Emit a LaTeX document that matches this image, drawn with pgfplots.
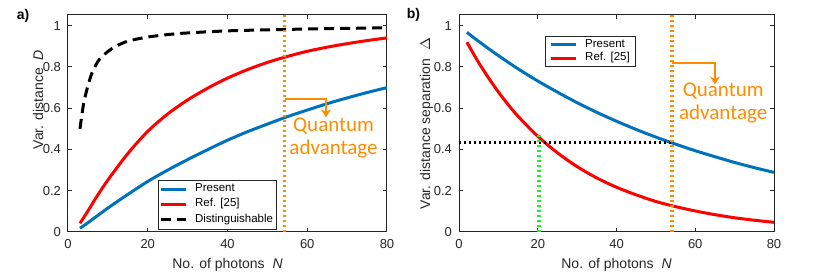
\documentclass[border=0pt]{standalone}
\usepackage{fontspec}
\setmainfont{Liberation Sans}
\newfontfamily\calibri{Carlito}
\usepackage{pgfplots}
\pgfplotsset{compat=1.18}
\usetikzlibrary{arrows.meta}
\definecolor{mblue}{RGB}{0,114,189}
\definecolor{mred}{RGB}{255,0,0}
\definecolor{morange}{RGB}{255,140,0}
\definecolor{mgreen}{RGB}{40,235,40}
\definecolor{axgray}{RGB}{38,38,38}
\pgfplotsset{
  myaxis/.style={
    scale only axis, height=108.5pt,
    xmin=0, xmax=80, ymin=0, ymax=1.052,
    xtick={0,20,40,60,80}, ytick={0,0.2,0.4,0.6,0.8,1},
    tick align=inside, tick pos=both, major tick length=2.2pt,
    axis line style={axgray, line width=0.5pt},
    every tick/.style={axgray, line width=0.5pt},
    tick label style={font=\fontsize{6.5}{7}\selectfont, text=axgray},
    label style={font=\fontsize{7}{8}\selectfont, text=axgray},
    /pgf/number format/assume math mode=true,
    xlabel={No. of photons\ \ \textit{N}},
    xlabel style={at={(axis description cs:0.5,-0.152)}, anchor=center},
    legend cell align=left,
    legend style={draw=axgray, line width=0.4pt, font=\fontsize{5.75}{6.5}\selectfont,
      inner xsep=0.5pt, inner ysep=1pt, row sep=0.4pt,
      nodes={inner ysep=0.8pt, inner xsep=1pt},
      /tikz/every odd column/.append style={column sep=3pt}},
    legend image code/.code={\draw[#1] (0pt,0pt) -- (12.5pt,0pt);},
  },
  dotline/.style={line width=1.6pt, dash pattern=on 1.2pt off 1.3pt},
}
\pgfplotstableread{
N    D
3    0.018
5    0.045
10   0.116
15   0.182
20   0.245
25   0.300
30   0.351
35   0.399
40   0.445
45   0.486
50   0.523
55   0.559
60   0.591
65   0.622
70   0.650
75   0.676
80   0.700
}\presentA
\pgfplotstableread{
N    D
3    0.042
5    0.102
7    0.165
10   0.252
15   0.380
20   0.488
25   0.572
30   0.640
35   0.697
40   0.746
45   0.787
50   0.822
55   0.851
60   0.876
65   0.896
70   0.913
75   0.928
80   0.941
}\refA
\pgfplotstableread{
N    D
3    0.50
3.5  0.57
4    0.63
5    0.71
6    0.77
7    0.81
8    0.84
10   0.875
12   0.90
15   0.925
20   0.945
25   0.957
30   0.965
40   0.975
50   0.980
60   0.984
70   0.987
80   0.990
}\distA
\pgfplotstableread{
N    S
2    0.968
5    0.924
10   0.855
15   0.791
20   0.732
25   0.678
30   0.627
35   0.580
40   0.537
45   0.497
50   0.460
55   0.426
60   0.394
65   0.365
70   0.337
75   0.312
80   0.289
}\presentB
\pgfplotstableread{
N    S
2    0.92
3.5  0.87
5    0.821
7.5  0.747
10   0.679
12.5 0.617
15   0.561
20   0.464
25   0.384
30   0.317
35   0.262
40   0.217
45   0.180
50   0.148
55   0.123
60   0.102
65   0.084
70   0.069
75   0.057
80   0.047
}\refB
\begin{document}
\begin{tikzpicture}
\useasboundingbox (0,0) rectangle (415pt,138pt);
\node[font=\bfseries\fontsize{7}{8}\selectfont, anchor=center] at (11.5pt,130pt) {a)};
\node[font=\bfseries\fontsize{7}{8}\selectfont, anchor=center] at (206.7pt,130.5pt) {b)};
% Panel a
\begin{axis}[myaxis, width=159.5pt, at={(34pt,22pt)}, anchor=south west,
  ylabel={Var. distance\ \ \textit{D}},
  ylabel style={at={(axis description cs:-0.094,0.61)}, anchor=center},
  legend style={at={(axis cs:22.5,0.013)}, anchor=south west},
]
\addplot[mblue, line width=1.5pt, smooth] table[x=N, y=D] {\presentA};
\addlegendentry{Present}
\addplot[mred, line width=1.5pt, smooth] table[x=N, y=D] {\refA};
\addlegendentry{Ref. [25]}
\addplot[black, line width=1.5pt, dash pattern=on 5pt off 3pt, smooth] table[x=N, y=D] {\distA};
\addlegendentry{Distinguishable}
\addplot[morange, dotline, forget plot] coordinates {(54.3,0) (54.3,1.052)};
\addplot[morange, line width=1pt, -{Stealth[length=4pt, width=5pt]}, forget plot]
  coordinates {(54.3,0.645) (64.7,0.645) (64.7,0.556)};
\node[text=morange, font=\calibri\fontsize{10.5}{11.6}\selectfont, align=center]
  at (axis cs:66.6,0.455) {Quantum\\advantage};
\end{axis}
% Panel b
\begin{axis}[myaxis, width=157.5pt, at={(229.5pt,22pt)}, anchor=south west,
  ylabel={Var. distance separation\ \ $\Delta$},
  ylabel style={at={(axis description cs:-0.103,0.5)}, anchor=center},
  legend style={at={(axis cs:21.8,0.95)}, anchor=north west, inner xsep=2pt,
    row sep=0pt, nodes={inner ysep=0.5pt, inner xsep=1pt},
    /tikz/every odd column/.append style={column sep=3pt}},
]
\addplot[mblue, line width=1.5pt, smooth] table[x=N, y=S] {\presentB};
\addlegendentry{Present}
\addplot[mred, line width=1.5pt, smooth] table[x=N, y=S] {\refB};
\addlegendentry{Ref. [25]}
\addplot[black, dotline, forget plot] coordinates {(0,0.435) (54.1,0.435)};
\addplot[mgreen, dotline, forget plot] coordinates {(20.3,0) (20.3,0.47)};
\addplot[morange, dotline, forget plot] coordinates {(54.1,0) (54.1,1.052)};
\addplot[morange, line width=1pt, -{Stealth[length=4pt, width=5pt]}, forget plot]
  coordinates {(54.1,0.82) (65,0.82) (65,0.715)};
\node[text=morange, font=\calibri\fontsize{10.5}{11.6}\selectfont, align=center]
  at (axis cs:67.1,0.626) {Quantum\\advantage};
\end{axis}
\end{tikzpicture}
\end{document}
